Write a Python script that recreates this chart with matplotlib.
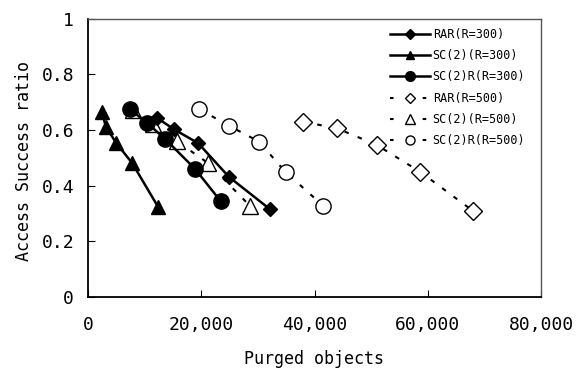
import matplotlib
matplotlib.use("Agg")
import matplotlib.pyplot as plt
from matplotlib.lines import Line2D

rar300_x = [12130, 15190, 19480, 24850, 32140]
rar300_y = [0.644, 0.602, 0.552, 0.432, 0.315]
sc300_x = [2420, 3180, 4945, 7830, 12420]
sc300_y = [0.665, 0.611, 0.554, 0.480, 0.322]
scr300_x = [7420, 10370, 13600, 18900, 23430]
scr300_y = [0.674, 0.626, 0.568, 0.460, 0.344]
rar500_x = [38020, 43920, 50980, 58630, 67930]
rar500_y = [0.629, 0.606, 0.546, 0.450, 0.310]
sc500_x = [7890, 11540, 15660, 21250, 28610]
sc500_y = [0.671, 0.620, 0.560, 0.480, 0.327]
scr500_x = [19660, 24900, 30200, 34910, 41560]
scr500_y = [0.674, 0.615, 0.558, 0.448, 0.327]

labels = ["RAR(R=300)", "SC(2)(R=300)", "SC(2)R(R=300)",
          "RAR(R=500)", "SC(2)(R=500)", "SC(2)R(R=500)"]
xticks = [0, 20000, 40000, 60000, 80000]
xticklabels = ["0", "20,000", "40,000", "60,000", "80,000"]
yticks = [0, 0.2, 0.4, 0.6, 0.8, 1]
yticklabels = ["0", "0.2", "0.4", "0.6", "0.8", "1"]

plt.rcParams['font.family'] = ['DejaVu Sans Mono']
fig = plt.figure(figsize=(5.78, 3.76), dpi=100)
ax = fig.add_axes([88/578, 1-297/376, (541-88)/578, (297-18.5)/376])

dash = (0, (2.2, 4.6))
styles = [
    dict(ls='-', lw=1.8, marker='D', ms=7.5, mfc='black', zorder=3),
    dict(ls='-', lw=1.8, marker='^', ms=10, mfc='black', zorder=3),
    dict(ls='-', lw=1.8, marker='o', ms=11, mfc='black', zorder=3),
    dict(ls=dash, lw=1.5, marker='D', ms=9, mfc='white', mew=1, zorder=2),
    dict(ls=dash, lw=1.5, marker='^', ms=11, mfc='white', mew=1, zorder=2),
    dict(ls=dash, lw=1.5, marker='o', ms=11, mfc='white', mew=1, zorder=2),
]
series = [(rar300_x, rar300_y), (sc300_x, sc300_y), (scr300_x, scr300_y),
          (rar500_x, rar500_y), (sc500_x, sc500_y), (scr500_x, scr500_y)]
for (xs, ys), st, lab in zip(series, styles, labels):
    ax.plot(xs, ys, color='black', mec='black', label=lab, **st)

# legend handles
leg_ms = [5, 6, 7, 5.5, 6.5, 6.5]
handles = []
for st, lab, m in zip(styles, labels, leg_ms):
    ls = '-' if st['ls'] == '-' else (0, (1.7, 14.0))
    handles.append(Line2D([], [], color='black', lw=st['lw'], ls=ls,
                          marker=st['marker'], ms=m, mfc=st['mfc'],
                          mec='black', mew=1, label=lab))

ax.set_xlim(0, 80000)
ax.set_ylim(0, 1)
ax.set_xticks(xticks)
ax.set_xticklabels(xticklabels)
ax.set_yticks(yticks)
ax.set_yticklabels(yticklabels)
ax.tick_params(direction='in', labelsize=13, length=5)
ax.tick_params(axis='x', pad=14)
ax.tick_params(axis='y', pad=10)
ax.set_xlabel("Purged objects", fontsize=12)
ax.set_ylabel("Access Success ratio", fontsize=12)
ax.xaxis.set_label_coords(0.5, -0.19)
ax.yaxis.set_label_coords(-0.121, 0.49)
for s in ax.spines.values():
    s.set_linewidth(1.3)
ax.spines['top'].set_color('#555555')
ax.spines['right'].set_color('#555555')
ax.spines['top'].set_linewidth(1.0)
ax.spines['right'].set_linewidth(1.0)

leg = ax.legend(handles=handles, loc='upper left', bbox_to_anchor=(0.667, 0.966),
                frameon=False, fontsize=8.5, handlelength=3.4, handletextpad=0.2,
                labelspacing=0.7, borderaxespad=0, borderpad=0)

fig.savefig("out.png", dpi=100)
